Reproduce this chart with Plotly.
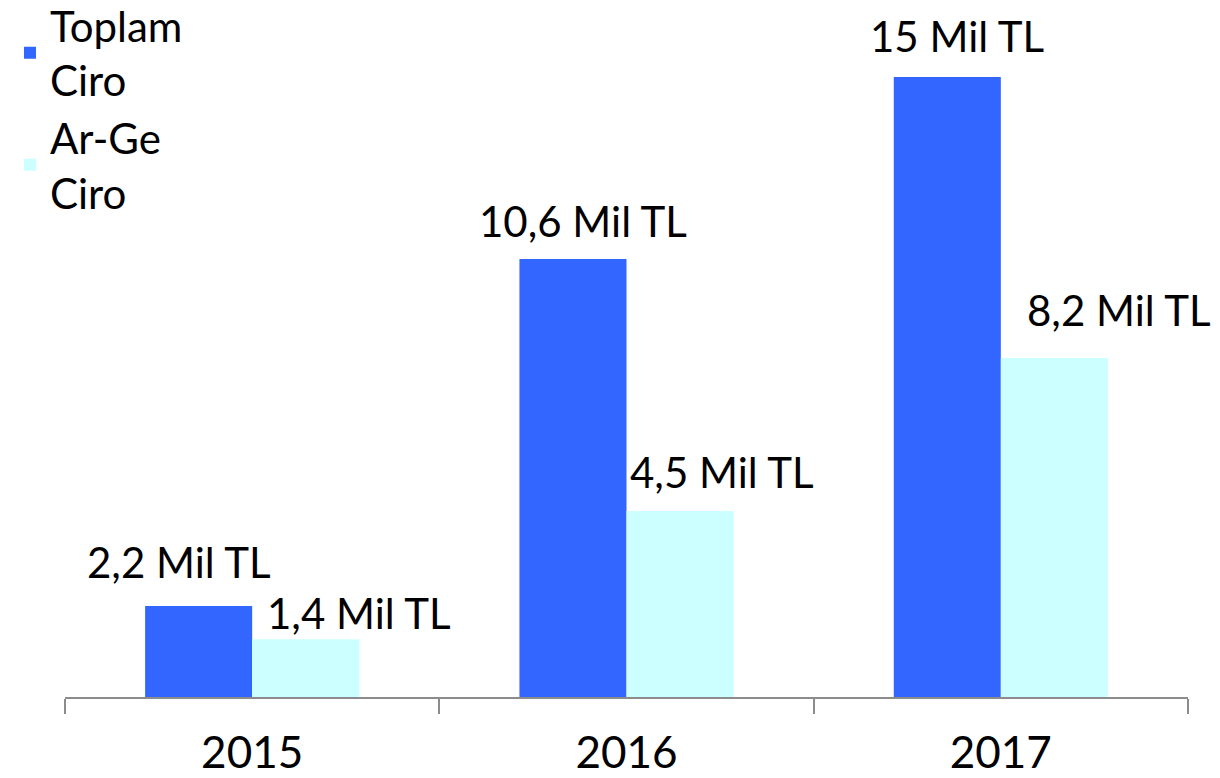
import plotly.graph_objects as go

years = ["2015", "2016", "2017"]
toplam_ciro = [2.2, 10.6, 15.0]
arge_ciro = [1.4, 4.5, 8.2]
series_names = ["Toplam<br>Ciro", "Ar-Ge<br>Ciro"]
unit = " Mil TL"

colors = ["#3366FF", "#CCFFFF"]
FONT = "Lato, 'Open Sans', sans-serif"

# per-label offsets (pixels) for the value labels, style only
label_xshift = [[-73, 107], [-44, 95], [-44, 118]]
label_yshift = [[17, -1], [11, 12], [14, 21]]


def fmt(v):
    return f"{v:g}".replace(".", ",") + unit


fig = go.Figure()
for name, vals, col in zip(series_names, [toplam_ciro, arge_ciro], colors):
    fig.add_trace(go.Bar(x=years, y=vals, name=name, marker=dict(color=col, line=dict(width=0))))

annotations = []
for i, yr in enumerate(years):
    for j, vals in enumerate([toplam_ciro, arge_ciro]):
        annotations.append(dict(
            x=i, y=vals[i], xref="x", yref="y", text=fmt(vals[i]), showarrow=False,
            xanchor="center", yanchor="bottom",
            xshift=label_xshift[i][j], yshift=label_yshift[i][j],
            font=dict(family=FONT, size=42, color="black"),
        ))

fig.update_layout(
    width=1212, height=770,
    margin=dict(l=57, r=32, t=12, b=81, autoexpand=False),
    paper_bgcolor="white", plot_bgcolor="white",
    barmode="group", bargap=0.428, bargroupgap=0,
    font=dict(family=FONT, size=42, color="black"),
    showlegend=True,
    legend=dict(x=-0.049, y=1.042, xanchor="left", yanchor="top",
                font=dict(family=FONT, size=42, color="black"),
                bgcolor="rgba(0,0,0,0)", tracegroupgap=9, itemwidth=30),
    annotations=annotations,
    xaxis=dict(type="category", categoryorder="array", categoryarray=years,
               range=[-0.5, len(years) - 0.5],
               showline=True, linecolor="#8c8c8c", linewidth=2,
               ticks="outside", tickson="boundaries", ticklen=15, tickwidth=2,
               tickcolor="#8c8c8c", showgrid=False, zeroline=False, automargin=False,
               tickangle=0,
               tickfont=dict(family=FONT, size=44, color="black"),
               ticklabelstandoff=16),
    yaxis=dict(visible=False, range=[0, 16.38], showgrid=False, zeroline=False),
)

fig.write_html("out.html")
